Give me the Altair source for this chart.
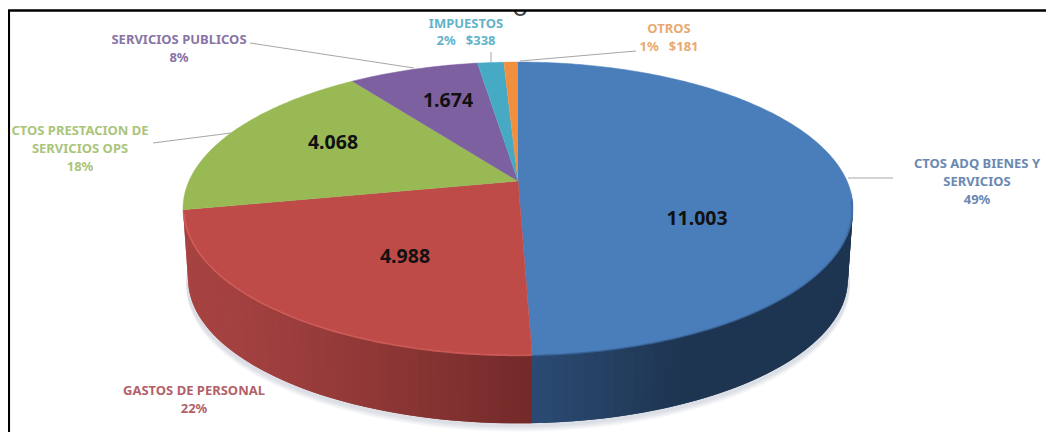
import math
import altair as alt
import pandas as pd

# ---- values
categories = ["CTOS ADQ BIENES Y SERVICIOS", "GASTOS DE PERSONAL", "CTOS PRESTACION DE SERVICIOS OPS",
              "SERVICIOS PUBLICOS", "IMPUESTOS", "OTROS"]
values = [11003, 4988, 4068, 1674, 338, 181]
value_labels = ["11.003", "4.988", "4.068", "1.674"]
slice_colors = ["#4a7ebb", "#be4b48", "#98b954", "#7d60a0", "#46aac4", "#f28f3f"]
label_colors = ["#6a88b2", "#b2616a", "#aac57c", "#8874a6", "#62b3ca", "#e8aa70"]

# ---- layout (pixels in the 1054x440 picture)
label_lines = [
    ("CTOS ADQ BIENES Y", 977, 164, 0), ("SERVICIOS", 977, 182, 0), ("49%", 977, 200, 0),
    ("GASTOS DE PERSONAL", 194, 391, 1), ("22%", 194, 409, 1),
    ("CTOS PRESTACION DE", 80, 131, 2), ("SERVICIOS OPS", 80, 149, 2), ("18%", 80, 167, 2),
    ("SERVICIOS PUBLICOS", 179, 40, 3), ("8%", 179, 58, 3),
    ("IMPUESTOS", 466, 24, 4), ("2%\u00a0\u00a0\u00a0$338", 466, 41, 4),
    ("OTROS", 669, 29, 5), ("1%\u00a0\u00a0\u00a0$181", 669, 47, 5),
]
value_pos = [(697, 219), (405, 257), (333, 143), (448, 101)]
leaders = [((848, 178), (893, 178)), ((231, 133), (153, 143)), ((414, 68), (250, 43)),
           ((491, 62), (491, 52)), ((520, 61), (636, 51))]

X0, Y0, RX, RY, K = 518.0, 181.0, 329.0, 141.3, 0.1877
DZ, SHRINK = 71.0, 0.985


def rim(t, r=1.0, dz=0.0):
    u, v = math.sin(t), -math.cos(t)
    w = 1 - K * v
    return X0 + r * RX * u / w, Y0 + dz + r * RY * v / w


def mix(a, b, f):
    pa = [int(a[i:i + 2], 16) for i in (1, 3, 5)]
    pb = [int(b[i:i + 2], 16) for i in (1, 3, 5)]
    return "#" + "".join(f"{round(p + (q - p) * f):02x}" for p, q in zip(pa, pb))


total = sum(values)
edges = [0.0]
for val in values:
    edges.append(edges[-1] + val / total * 2 * math.pi)


def span(a, b, step=math.radians(1)):
    n = max(2, int((b - a) / step) + 1)
    return [a + (b - a) * j / n for j in range(n + 1)]


# side wall, shadow, top surface
wall, top, shadow, rims = [], [], [], []
pid = 0


def wall_color(cx):
    if cx < X0 + 14:
        f = min(1, max(0, (cx - 190) / 340))
        return mix("#a64341", "#722a29", f ** 1.3)
    f = min(1, max(0, (cx - 532) / 150))
    return mix("#2b4b74", "#1e3551", f)


# Each strip overlaps the one painted before it, so that no seam shows.
for a, b in ((edges[0], edges[1]), (edges[1], edges[2])):
    ts = span(a, b, math.radians(1.5))
    step = ts[1] - ts[0]
    for t0 in ts[:-1][::-1]:
        t1 = t0 + step
        if -math.cos(t1) < 0.12 and -math.cos(t0) < 0.12:
            continue
        lo = max(a, t0 - step)
        pts = [rim(lo), rim(t1), rim(t1, SHRINK, DZ), rim(lo, SHRINK, DZ)]
        col = wall_color(sum(rim(t)[0] for t in (t0, t1)) / 2)
        for i, (x, y) in enumerate(pts):
            wall.append(dict(p=pid, i=i, x=x, y=y, c=col))
        pid += 1

for k, off in enumerate((7, 5, 3)):
    for i, t in enumerate(span(0, 2 * math.pi, math.radians(2))):
        x, y = rim(t, SHRINK * 1.006, DZ + off)
        shadow.append(dict(p=k, i=i, x=x, y=y))

for s, col in enumerate(slice_colors):
    top.append(dict(p=s, i=0, x=X0, y=Y0, c=col))
    for i, t in enumerate(span(edges[s], edges[s + 1])):
        x, y = rim(t)
        top.append(dict(p=s, i=i + 1, x=x, y=y, c=col))

for s, (a, b, col) in enumerate(((edges[0] + 1.7, edges[1], "#3b689f"),
                                 (edges[1], edges[2] - 0.02, "#d4605c"))):
    for i, t in enumerate(span(a, b)):
        x, y = rim(t, 0.997, 1.0)
        rims.append(dict(p=s, i=i, x=x, y=y, c=col))

labels = [dict(t=t, x=x, y=y, c=label_colors[s]) for t, x, y, s in label_lines]
numbers = [dict(t=t, x=p[0], y=p[1]) for t, p in zip(value_labels, value_pos)]
lead = []
for n, (p, q) in enumerate(leaders):
    lead += [dict(p=n, i=0, x=p[0], y=p[1]), dict(p=n, i=1, x=q[0], y=q[1])]

W, H = 1038, 424
xs = alt.Scale(domain=[8, 8 + W], range=[0, W], nice=False, zero=False)
ys = alt.Scale(domain=[8, 8 + H], range=[0, H], nice=False, zero=False)
X = alt.X("x:Q", scale=xs, axis=None)
Y = alt.Y("y:Q", scale=ys, axis=None)


def polys(rows, **mark):
    return alt.Chart(pd.DataFrame(rows)).mark_line(filled=True, strokeJoin="round", **mark).encode(
        x=X, y=Y, order="i:Q", detail="p:N",
        fill=alt.Fill("c:N", scale=None), stroke=alt.Stroke("c:N", scale=None))


shadow_layer = alt.Chart(pd.DataFrame(shadow)).mark_line(
    filled=True, fill="#5a6a7a", fillOpacity=0.07, strokeOpacity=0).encode(
    x=X, y=Y, order="i:Q", detail="p:N")
wall_layer = polys(wall, strokeWidth=0)
top_layer = polys(top, strokeWidth=0.5)
rim_layer = alt.Chart(pd.DataFrame(rims)).mark_line(strokeWidth=1.6, opacity=0.8).encode(
    x=X, y=Y, order="i:Q", detail="p:N", color=alt.Color("c:N", scale=None))
lead_layer = alt.Chart(pd.DataFrame(lead)).mark_line(color="#a6a6a6", strokeWidth=1).encode(
    x=X, y=Y, order="i:Q", detail="p:N")
label_layer = alt.Chart(pd.DataFrame(labels)).mark_text(
    font="Noto Sans", fontWeight="bold", fontSize=13, align="center", baseline="middle").encode(
    x=X, y=Y, text="t:N", color=alt.Color("c:N", scale=None))
number_layer = alt.Chart(pd.DataFrame(numbers)).mark_text(
    font="Noto Sans", fontWeight="bold", fontSize=19.5, color="#111111", align="center", baseline="middle").encode(
    x=X, y=Y, text="t:N")
title_rest = alt.Chart(pd.DataFrame([dict(t="o", x=520, y=8)])).mark_text(
    font="Noto Sans", fontSize=26, color="#444444", align="center", baseline="middle").encode(
    x=X, y=Y, text="t:N")
top_mask = alt.Chart(pd.DataFrame([dict(x=8, x2=1046, y=8, y2=10)])).mark_rect(color="white").encode(
    x=X, x2="x2:Q", y=Y, y2="y2:Q")
top_rule = alt.Chart(pd.DataFrame([dict(x=8, x2=1046, y=10.5)])).mark_rule(color="#000000", strokeWidth=2.5).encode(
    x=X, x2="x2:Q", y=Y)
left_rule = alt.Chart(pd.DataFrame([dict(x=8.8, y=10, y2=432)])).mark_rule(color="#000000", strokeWidth=2.5).encode(
    x=X, y=Y, y2="y2:Q")

chart = alt.layer(
    title_rest, top_mask, top_rule, left_rule, shadow_layer, wall_layer, top_layer, rim_layer,
    lead_layer, label_layer, number_layer,
).properties(
    width=W, height=H, padding=0, autosize=alt.AutoSizeParams(type="none"),
).configure_view(stroke=None)

chart.save("out.html", embed_options={"renderer": "svg", "actions": False})
